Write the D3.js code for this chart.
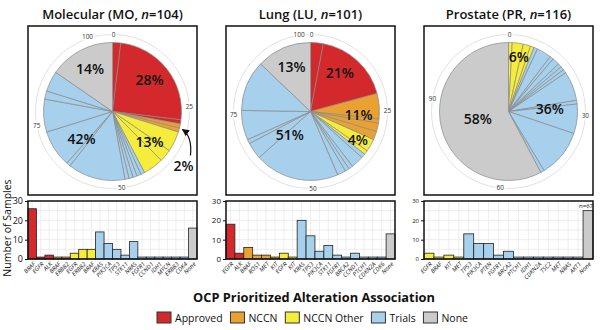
<!DOCTYPE html>
<html>
<head>
<meta charset="utf-8">
<script src="https://cdn.jsdelivr.net/npm/d3@7"></script>
<style>
  body { margin: 0; background: #fff; }
  svg { font-family: "Open Sans", sans-serif; }
</style>
</head>
<body>
<svg id="chart" width="600" height="330"></svg>
<script>
// categories of the OCP prioritized alteration association
var catKeys = ['A', 'N', 'O', 'T', 'X'];
var catNames = ['Approved', 'NCCN', 'NCCN Other', 'Trials', 'None'];
var catColors = ['#d3282c', '#e9a231', '#f6ec3c', '#a6d0eb', '#cbcbcb'];

var panelNames = ['Molecular', 'Lung', 'Prostate'];
var panelCodes = ['MO', 'LU', 'PR'];

// Molecular
var moGenes  = ['BRAF','EGFR','ALK','BRAF','ERBB2','EGFR','ERBB2','BRAF','KRAS','PIK3CA','TP53','STK11','NRAS','FGFR1','CCND1','IDH1','MYCN','ERBB3','CDK4','None'];
var moCounts = [26, 1, 2, 1, 1, 3, 5, 5, 14, 8, 5, 2, 9, 1, 1, 1, 1, 1, 1, 16];
var moCats   = ['A','A','A','N','N','O','O','O','T','T','T','T','T','T','T','T','T','T','T','X'];
var moPct    = ['28%', '2%', '13%', '42%', '14%'];
var moRing   = [0, 25, 50, 75, 100];

// Lung
var luGenes  = ['EGFR','ALK','BRAF','ROS1','MET','KIT','EGFR','KIT','KRAS','TP53','PIK3CA','STK11','FGFR1','BRCA2','CCND1','PTCH1','CDKN2A','CDK6','None'];
var luCounts = [18, 3, 6, 2, 2, 1, 3, 1, 20, 12, 4, 7, 2, 1, 3, 1, 1, 1, 13];
var luCats   = ['A','A','N','N','N','N','O','O','T','T','T','T','T','T','T','T','T','T','X'];
var luPct    = ['21%', '11%', '4%', '51%', '13%'];
var luRing   = [0, 25, 50, 75, 100];

// Prostate
var prGenes  = ['EGFR','BRAF','KIT','MET','TP53','PIK3CA','PTEN','FGFR1','BRCA2','PTCH1','IDH1','CDKN2A','TSC2','MET','NRAS','AKT1','None'];
var prCounts = [3, 1, 2, 1, 13, 8, 8, 2, 4, 1, 1, 1, 1, 1, 1, 1, 67];
var prCats   = ['O','O','O','O','T','T','T','T','T','T','T','T','T','T','T','T','X'];
var prPct    = ['', '', '6%', '36%', '58%'];
var prRing   = [0, 30, 60, 90];

var yTicks = [0, 10, 20, 30];
var barCap = 25;   // bars above the axis max are cut and labelled with n=

var setup = {
  panelX: [28, 226, 424],
  panelW: 169,
  pieTop: 26,
  pieH: 169,
  r: 69,
  ring: 77,
  barTop: 201,
  barBottom: 259,
  tickFont: [9, 8, 6]
};

var svg = d3.select('#chart');
var color = d3.scaleOrdinal().domain(catKeys).range(catColors);

var defs = svg.append('defs');
defs.append('marker')
  .attr('id', 'arrow')
  .attr('viewBox', '0 0 10 10')
  .attr('refX', 9).attr('refY', 5)
  .attr('markerWidth', 6).attr('markerHeight', 6)
  .attr('orient', 'auto')
  .append('path')
  .attr('d', 'M0,0L10,5L0,10z')
  .attr('fill', '#111');

// how far out a percent label sits, by the share of its category
function labelRadius(frac) {
  if (frac < 0.08) return 0.8;
  if (frac > 0.5) return 0.46;
  if (frac > 0.35) return 0.6;
  return 0.7;
}

function drawPanel(p, genes, counts, cats, pcts, ringTicks) {
  var x0 = setup.panelX[p], w = setup.panelW;
  var total = d3.sum(counts);
  var cx = x0 + w / 2, cy = setup.pieTop + setup.pieH / 2 + 1;

  // title
  var t = svg.append('text')
    .attr('x', cx).attr('y', 19)
    .attr('text-anchor', 'middle')
    .attr('font-size', 13).attr('font-weight', 600)
    .attr('fill', '#111');
  t.append('tspan').text(panelNames[p] + ' (' + panelCodes[p] + ', ');
  t.append('tspan').attr('font-style', 'italic').text('n');
  t.append('tspan').text('=' + total + ')');

  // pie box
  svg.append('rect')
    .attr('x', x0).attr('y', setup.pieTop)
    .attr('width', w).attr('height', setup.pieH)
    .attr('fill', 'none').attr('stroke', '#111').attr('stroke-width', 1.5);

  var g = svg.append('g').attr('transform', 'translate(' + [cx, cy] + ')');

  // outer ring with sample-count ticks
  g.append('circle').attr('r', setup.ring)
    .attr('fill', 'none').attr('stroke', '#e2e2e2').attr('stroke-width', 1);
  var ang = d3.scaleLinear().domain([0, total]).range([0, 2 * Math.PI]);
  g.selectAll('.ringlab').data(ringTicks).enter().append('text')
    .attr('x', function(d) {
      var a = ang(d), px = setup.ring * Math.sin(a);
      if (d === 0) return px + 1;
      if (a > 2 * Math.PI * 0.95) return px - 1;
      return px;
    })
    .attr('y', function(d) { return -setup.ring * Math.cos(ang(d)); })
    .attr('dy', '0.35em')
    .attr('text-anchor', function(d) { return ang(d) > 2 * Math.PI * 0.95 ? 'end' : 'middle'; })
    .attr('font-size', 6.5).attr('fill', '#333')
    .attr('stroke', '#fff').attr('stroke-width', 3).attr('paint-order', 'stroke')
    .text(function(d) { return d; });

  // slices: grouped by category, genes alphabetical within
  var slices = genes.map(function(gname, i) {
    return { gene: gname, count: counts[i], cat: cats[i] };
  });
  slices.sort(function(a, b) {
    var c = catKeys.indexOf(a.cat) - catKeys.indexOf(b.cat);
    return c !== 0 ? c : d3.ascending(a.gene, b.gene);
  });
  var pie = d3.pie().sort(null).value(function(d) { return d.count; });
  var arc = d3.arc().innerRadius(0).outerRadius(setup.r);
  g.selectAll('.slice').data(pie(slices)).enter().append('path')
    .attr('d', arc)
    .attr('fill', function(d) { return color(d.data.cat); })
    .attr('stroke', '#8a8a8a').attr('stroke-width', 0.7);

  // category percent labels
  var catTotals = catKeys.map(function(k) {
    return d3.sum(slices.filter(function(s) { return s.cat === k; }), function(s) { return s.count; });
  });
  var catArcs = d3.pie().sort(null)(catTotals);
  catArcs.forEach(function(a, k) {
    if (!pcts[k] || a.value === 0) return;
    if (p === 0 && catKeys[k] === 'N') {
      // small slice: label outside with arrow
      var mid = (a.startAngle + a.endAngle) / 2;
      var tx = (setup.r + 2) * Math.sin(mid), ty = -(setup.r + 2) * Math.cos(mid);
      g.append('path')
        .attr('d', 'M' + (tx + 9) + ',' + (ty + 27) + 'Q' + (tx + 11) + ',' + (ty + 8) + ' ' + (tx + 1) + ',' + (ty + 1))
        .attr('fill', 'none').attr('stroke', '#111').attr('stroke-width', 1.2)
        .attr('marker-end', 'url(#arrow)');
      g.append('text')
        .attr('x', tx + 2).attr('y', ty + 43)
        .attr('text-anchor', 'middle')
        .attr('font-size', 14).attr('font-weight', 600).attr('fill', '#111')
        .text(pcts[k]);
      return;
    }
    var rr = setup.r * labelRadius(a.value / total);
    var c = d3.arc().innerRadius(rr).outerRadius(rr).centroid(a);
    g.append('text')
      .attr('x', c[0]).attr('y', c[1])
      .attr('dy', '0.35em')
      .attr('text-anchor', 'middle')
      .attr('font-size', 14).attr('font-weight', 600).attr('fill', '#111')
      .text(pcts[k]);
  });

  // bar chart
  var x = d3.scaleBand().domain(d3.range(genes.length)).range([x0, x0 + w]).padding(0);
  var y = d3.scaleLinear().domain([0, 30]).range([setup.barBottom, setup.barTop]);

  var grid = svg.append('g');
  grid.selectAll('.hg').data(d3.range(5, 30, 5)).enter().append('line')
    .attr('x1', x0).attr('x2', x0 + w)
    .attr('y1', function(d) { return y(d); }).attr('y2', function(d) { return y(d); })
    .attr('stroke', '#e6e6e6').attr('stroke-width', 0.7);
  grid.selectAll('.vg').data(d3.range(genes.length)).enter().append('line')
    .attr('x1', function(d) { return x(d) + x.bandwidth() / 2; })
    .attr('x2', function(d) { return x(d) + x.bandwidth() / 2; })
    .attr('y1', setup.barTop).attr('y2', setup.barBottom)
    .attr('stroke', '#e6e6e6').attr('stroke-width', 0.7);

  svg.selectAll('.bar' + p).data(counts).enter().append('rect')
    .attr('x', function(d, i) { return x(i); })
    .attr('y', function(d) { return y(d > 30 ? barCap : d); })
    .attr('width', x.bandwidth())
    .attr('height', function(d) { return setup.barBottom - y(d > 30 ? barCap : d); })
    .attr('fill', function(d, i) { return color(cats[i]); })
    .attr('stroke', '#222').attr('stroke-width', 0.8);

  counts.forEach(function(d, i) {
    if (d > 30) {
      svg.append('text')
        .attr('x', x(i) + x.bandwidth() / 2 - 2).attr('y', y(barCap) - 3)
        .attr('text-anchor', 'middle')
        .attr('font-size', 6).attr('fill', '#111')
        .text('n=' + d);
    }
  });

  svg.append('rect')
    .attr('x', x0).attr('y', setup.barTop)
    .attr('width', w).attr('height', setup.barBottom - setup.barTop)
    .attr('fill', 'none').attr('stroke', '#111').attr('stroke-width', 1.5);

  var yAxis = d3.axisLeft(y).tickValues(yTicks).tickSize(3).tickPadding(2);
  var ya = svg.append('g').attr('transform', 'translate(' + x0 + ',0)').call(yAxis);
  ya.select('.domain').remove();
  ya.selectAll('text').attr('font-size', setup.tickFont[p]).attr('font-family', '"Open Sans", sans-serif').attr('fill', '#111');
  ya.selectAll('line').attr('stroke', '#111');

  svg.selectAll('.xl' + p).data(genes).enter().append('text')
    .attr('transform', function(d, i) {
      return 'translate(' + (x(i) + x.bandwidth() / 2 + 2) + ',' + (setup.barBottom + 4) + ') rotate(-45)';
    })
    .attr('text-anchor', 'end')
    .attr('dy', '0.35em')
    .attr('font-size', 6).attr('font-style', 'italic').attr('fill', '#111')
    .text(function(d) { return d; });
}

drawPanel(0, moGenes, moCounts, moCats, moPct, moRing);
drawPanel(1, luGenes, luCounts, luCats, luPct, luRing);
drawPanel(2, prGenes, prCounts, prCats, prPct, prRing);

// y axis title
svg.append('text')
  .attr('transform', 'translate(11,228) rotate(-90)')
  .attr('text-anchor', 'middle')
  .attr('font-size', 10.5).attr('fill', '#111')
  .text('Number of Samples');

// legend
svg.append('text')
  .attr('x', 314).attr('y', 302)
  .attr('text-anchor', 'middle')
  .attr('font-size', 12.8).attr('font-weight', 700).attr('fill', '#111')
  .text('OCP Prioritized Alteration Association');

var legSpan = 311;
var leg = svg.append('g').attr('transform', 'translate(157,318)');
var items = catNames.map(function(name, i) {
  var item = leg.append('g');
  item.append('rect')
    .attr('x', 0).attr('y', -6).attr('width', 14).attr('height', 11)
    .attr('fill', catColors[i]).attr('stroke', '#333').attr('stroke-width', 1);
  var tx = item.append('text')
    .attr('x', 18).attr('y', 4)
    .attr('font-size', 10.5).attr('fill', '#111')
    .text(name);
  return { g: item, w: 18 + tx.node().getComputedTextLength() };
});
var gap = (legSpan - d3.sum(items, function(d) { return d.w; })) / (items.length - 1);
var lx = 0;
items.forEach(function(it) {
  it.g.attr('transform', 'translate(' + lx + ',0)');
  lx += it.w + gap;
});
</script>
</body>
</html>
